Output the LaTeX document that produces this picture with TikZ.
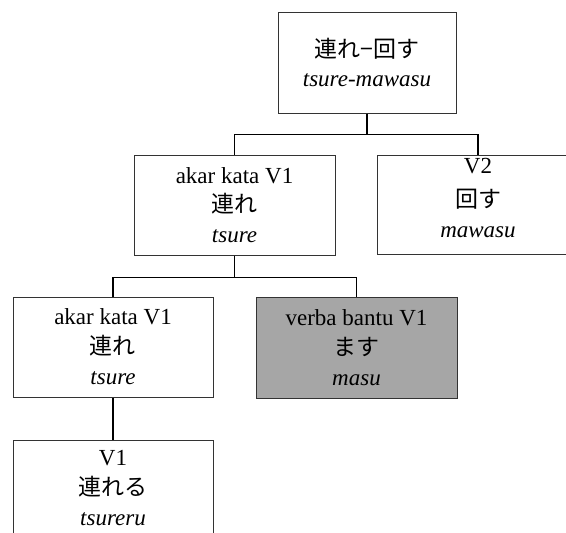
\documentclass[tikz,border=0pt]{standalone}
\usepackage{fontspec}
\setmainfont{Liberation Serif}
\newfontfamily\jp{Noto Sans CJK JP}
\definecolor{boxgray}{HTML}{A6A6A6}
\definecolor{edge}{HTML}{333333}
\tikzset{
  box/.style={draw=edge, line width=1pt, minimum height=100pt, align=center, inner sep=0pt,
    font=\fontsize{23}{30}\selectfont},
  txt/.style={align=center, inner sep=0pt, font=\fontsize{23}{30}\selectfont},
  conn/.style={draw=black, line width=1.5pt}
}
\begin{document}
\begin{tikzpicture}[x=1pt,y=-1pt]
\clip (0,0) rectangle (566,533);
\fill[white] (0,0) rectangle (566,533);
\node[box, minimum width=178pt, minimum height=101pt] (top) at (367,62.5) {{\jp 連れ−回す}\\[-1pt]\textit{tsure-mawasu}};
\node[box, minimum width=201pt] (ml) at (234.5,205) {akar kata V1\\[-1pt]{\jp 連れ}\\\textit{tsure}};
\node[box, minimum width=202pt, minimum height=99pt] (r) at (478,204.5) {};
\node[txt] (rt) at (478,198) {V2\\[4pt]{\jp 回す}\\\textit{mawasu}};
\node[box, minimum width=200pt] (bl) at (113,347) {akar kata V1\\{\jp 連れ}\\\textit{tsure}};
\node[box, minimum width=201pt, minimum height=101pt, fill=boxgray] (gr) at (356.5,347.5) {verba bantu V1\\{\jp ます}\\\textit{masu}};
\node[box, minimum width=200pt] (v1) at (113,490) {};
\node[txt] (v1t) at (113,488) {V1\\{\jp 連れる}\\\textit{tsureru}};
\draw[conn] (top.south) -- ++(0,21) -| (ml.north);
\draw[conn] (top.south) -- ++(0,21) -| (r.north);
\draw[conn] (ml.south) -- ++(0,22) -| (bl.north);
\draw[conn] (ml.south) -- ++(0,22) -| (gr.north);
\draw[conn] (bl.south) -- (v1.north);
\end{tikzpicture}
\end{document}
